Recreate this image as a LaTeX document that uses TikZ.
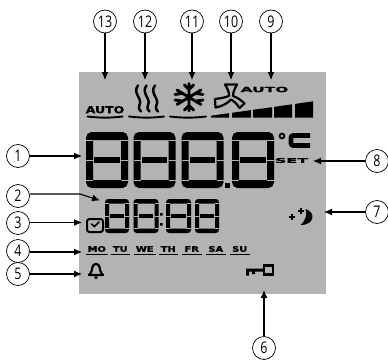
\documentclass[tikz,border=0pt]{standalone}
\usepackage{fontspec}
\setmainfont{Open Sans}
\newfontfamily\lcdfont[FakeBold=1.2]{DejaVu Sans Bold}
\usetikzlibrary{arrows.meta}
\definecolor{panel}{HTML}{B3B3B3}
\newcommand{\narrownum}[1]{\scalebox{0.78}[1]{#1}}
\tikzset{
  callout/.style={circle,draw=black,line width=0.7pt,fill=white,minimum size=23pt,inner sep=0pt,font=\fontsize{16}{17}\selectfont},
  leader/.style={line width=1.1pt,-{Latex[length=8pt,width=7pt]}},
  lcd/.style={font=\lcdfont\fontsize{#1}{#1}\selectfont,inner sep=0pt,text=black,xscale=1.3},
  ubar/.style={line width=1.9pt,line cap=round},
  icon/.style={line width=2pt,line cap=round,line join=round},
  seggap/.style={draw=panel,line width=0.7pt}
}
% seven segment digit: x, y, w, h, side thickness, bar thickness
\newcommand{\segdigit}[6]{%
  \begin{scope}[shift={(#1,#2)}]
    \fill[black,even odd rule,rounded corners=#6*0.7pt]
      (0,0) rectangle (#3,#4)
      [sharp corners] (#5,#6) rectangle (#3-#5,#4-#6);
    \fill[black] (#5+1.2,#4/2-#6*0.42) rectangle (#3-#5-1.2,#4/2+#6*0.42);
    \draw[seggap] (0,#6) -- (#5,#6) (#3-#5,#6) -- (#3,#6)
      (0,#4-#6) -- (#5,#4-#6) (#3-#5,#4-#6) -- (#3,#4-#6)
      (0,#4/2) -- (#5,#4/2) (#3-#5,#4/2) -- (#3,#4/2);
  \end{scope}}
\begin{document}
\begin{tikzpicture}[x=1pt,y=-1pt]
\useasboundingbox (0,0) rectangle (388,361);
\fill[panel] (79,72) rectangle (325.5,294);

% large digits
\segdigit{86}{132}{42}{56}{7}{8}
\segdigit{133.5}{132}{42}{56}{7}{8}
\segdigit{181.5}{132}{42}{56}{7}{8}
\segdigit{232}{132}{42}{56}{7}{8}
\fill[black] (225,183) rectangle (230,188);
% small digits
\segdigit{105}{199}{24}{34}{4}{4.5}
\segdigit{133.5}{199}{25}{34}{4}{4.5}
\segdigit{166}{199}{25}{34}{4}{4.5}
\segdigit{195}{199}{24}{34}{4}{4.5}
\fill[black] (160,213) rectangle (162.5,215.5) (160,223) rectangle (162.5,225.5);

% top row icons
\node[lcd=9.6] (autoa) at (105,109.7) {AUTO};
\draw[ubar] (87.5,116.5) .. controls (100,118) and (110,118) .. (122.5,116.5);
\foreach \dx in {0,8.5,17}
  \draw[line width=2.5pt,line cap=round] (138+\dx,85.5) .. controls (132+\dx,93) and (143+\dx,99) .. (139.5+\dx,105)
     .. controls (138.5+\dx,107) and (138.5+\dx,109) .. (141+\dx,111.5);
\draw[ubar] (129,116.5) .. controls (142,118) and (152,118) .. (164,116.5);
\draw[icon,line width=2.9pt]
  (189,83.5) -- (189,111) (177,90) -- (201,104.5) (177,104.5) -- (201,90)
  (184.5,85) -- (189,89.5) -- (193.5,85) (184.5,110) -- (189,105.5) -- (193.5,110)
  (175,94.5) -- (181.5,93.5) (175,100) -- (181.5,101)
  (203,94.5) -- (196.5,93.5) (203,100) -- (196.5,101);
\draw[ubar] (170,116.5) .. controls (182,118) and (194,118) .. (206,116.5);
\draw[line width=2.2pt,line join=round]
  (229,96) .. controls (229.5,92) and (227,88) .. (225,84.5) -- (237,84.5)
  .. controls (235,88) and (233,92) .. (233,96)
  .. controls (238,98) and (241,100) .. (244.5,103.5) -- (239.5,108)
  .. controls (237,104) and (234,101) .. (231,99.5)
  .. controls (228,103) and (222,106.5) .. (215.5,107.5) -- (215,99)
  .. controls (220,98.5) and (225,97.5) .. (229,96) -- cycle;
\node[lcd=7,xscale=1.7] (autob) at (264.5,89.5) {AUTO};
% fan speed bars
\fill[black] (211,115.7) -- (229,113.2) -- (229,117.7) -- (211,117.7) -- cycle;
\fill[black] (232,112.8) -- (251,110.1) -- (251,117.7) -- (232,117.7) -- cycle;
\fill[black] (253,109.8) -- (272,107.2) -- (272,117.7) -- (253,117.7) -- cycle;
\fill[black] (274,106.9) -- (292,104.3) -- (292,117.7) -- (274,117.7) -- cycle;
\fill[black] (295,103.9) -- (313,101.3) -- (313,117.7) -- (295,117.7) -- cycle;

% right side
\draw[line width=1.8pt] (282,136) circle (2.4);
\draw[line width=4.6pt,line join=round,rounded corners=2pt] (310,135.5) -- (291,135.5) -- (291,145.5) -- (310,145.5);
\node[lcd=6.6,xscale=1.85] (setlabel) at (291.5,160.5) {SET};
\fill[black] (305.5,209) .. controls (316,212) and (315,225) .. (300.5,225)
   .. controls (306,220) and (307.5,214) .. (305.5,209) -- cycle;
\draw[line width=2pt] (301,208) -- (301,214) (298,211) -- (304,211)
  (289,217) -- (295,217) (292,214) -- (292,220);

% lower row
\draw[line width=2pt,rounded corners=2.5pt] (87,219) rectangle (103,232);
\draw[line width=1.6pt,line cap=round] (91.5,224) -- (94.5,226.5) -- (99,222);
\foreach \lab/\xa/\xb/\nm in {MO/85.5/108/da,TU/110.5/130/db,WE/134/155.5/dc,TH/158.5/178/dd,FR/182/201.5/de,SA/205.5/226/df,SU/229.5/250/dg}{
  \node[lcd=7.6] (\nm) at ({(\xa+\xb)/2},249) {\lab};
  \draw[line width=1.3pt] (\xa,254.3) -- (\xb,254.3);
}
% bell
\draw[line width=2.2pt,line join=round] (89,275) .. controls (92,272) and (92,269) .. (92.5,267)
  .. controls (93,263) and (99,263) .. (99.5,267)
  .. controls (100,269) and (100,272) .. (103,275) -- cycle;
\fill[black] (96,277.5) circle (1.8);
% key
\draw[line width=2.3pt] (264,265.5) rectangle (273,274.5);
\fill[black] (246,268.5) rectangle (264,271.5) (246,268.5) rectangle (249,275.5) (252,268.5) rectangle (255,274);

% callouts
\node[callout] (c13) at (105,21.5) {\narrownum{13}};
\node[callout] (c12) at (145,21.5) {\narrownum{12}};
\node[callout] (c11) at (192,21.5) {\narrownum{11}};
\node[callout] (c10) at (231,21.5) {\narrownum{10}};
\node[callout] (c9) at (271,21.5) {\narrownum{9}};
\node[callout] (c1) at (18,156) {\narrownum{1}};
\node[callout] (c2) at (18,196) {\narrownum{2}};
\node[callout] (c3) at (18,223) {\narrownum{3}};
\node[callout] (c4) at (18,251) {\narrownum{4}};
\node[callout] (c5) at (18,274) {\narrownum{5}};
\node[callout] (c8) at (377,161) {\narrownum{8}};
\node[callout] (c7) at (377,212) {\narrownum{7}};
\node[callout] (c6) at (264,348) {\narrownum{6}};

\coordinate (t13) at (105,80);
\coordinate (t12) at (145,80);
\coordinate (t11) at (192,80);
\coordinate (t10) at (231,80);
\coordinate (t9) at (271,80);
\coordinate (t1) at (82,156);
\coordinate (t2) at (100,200.5);
\coordinate (b2) at (80,194);
\coordinate (t3) at (82,222.5);
\coordinate (t4) at (82,252);
\coordinate (t5) at (82,274);
\coordinate (t8) at (313,161);
\coordinate (t7) at (324,212);
\coordinate (t6) at (264,290);

\foreach \i in {13,12,11,10,9} \draw[leader] (c\i.south) -- (t\i);
\foreach \i in {1,4,5} \draw[leader] (c\i.east |- t\i) -- (t\i);
\draw[leader] (c3.east |- t3) -- (t3);
\draw[leader] (c2.east |- b2) -- (b2) -- (t2);
\draw[leader] (c8.west) -- (t8);
\draw[leader] (c7.west) -- (t7);
\draw[leader] (c6.north) -- (t6);
\end{tikzpicture}
\end{document}
